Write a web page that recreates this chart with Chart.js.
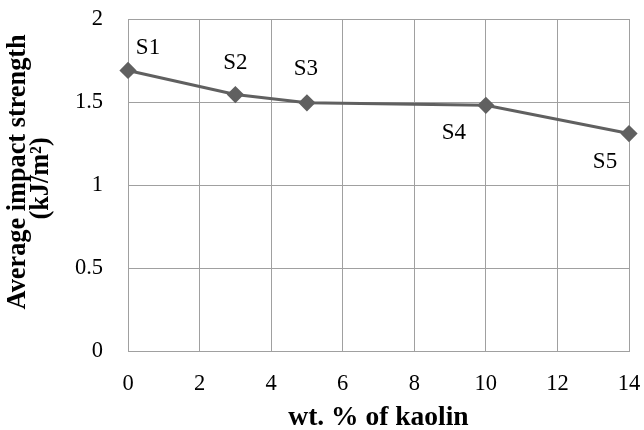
<!DOCTYPE html>
<html>
<head>
<meta charset="utf-8">
<script src="https://cdn.jsdelivr.net/npm/chart.js@4"></script>
<style>html,body{margin:0;padding:0;background:#fff;}canvas{display:block;}</style>
</head>
<body>
<canvas id="c" width="644" height="430"></canvas>
<script>
const kaolinPct = [0, 3, 5, 10, 14];
const impactStrength = [1.69, 1.545, 1.495, 1.48, 1.31];
const sampleLabels = ['S1', 'S2', 'S3', 'S4', 'S5'];
const xTitle = 'wt. % of kaolin';
const yTitle = ['Average impact strength', '(kJ/m²)'];

const labelOffsets = [[20, -23], [0, -32], [-1, -34], [-32, 28], [-24, 28]];
const FONT = '"Liberation Serif", "Times New Roman", serif';

const labelPlugin = {
  id: 'pointLabels',
  afterDatasetsDraw(chart) {
    const ctx = chart.ctx;
    const meta = chart.getDatasetMeta(0);
    ctx.save();
    ctx.font = '23px ' + FONT;
    ctx.fillStyle = '#000';
    ctx.textAlign = 'center';
    ctx.textBaseline = 'middle';
    meta.data.forEach((pt, i) => {
      ctx.fillText(sampleLabels[i], pt.x + labelOffsets[i][0], pt.y + labelOffsets[i][1]);
    });
    ctx.restore();
  }
};

new Chart(document.getElementById('c'), {
  type: 'scatter',
  data: {
    datasets: [{
      data: kaolinPct.map((x, i) => ({ x: x, y: impactStrength[i] })),
      showLine: true,
      borderColor: '#606060',
      backgroundColor: '#606060',
      borderWidth: 3,
      pointStyle: 'rectRot',
      pointRadius: 6.5,
      pointHoverRadius: 6.5,
      clip: false
    }]
  },
  options: {
    responsive: false,
    animation: false,
    layout: { autoPadding: false, padding: { left: 0, right: 15, top: 19, bottom: 0 } },
    plugins: { legend: { display: false }, tooltip: { enabled: false } },
    scales: {
      x: {
        type: 'linear', min: 0, max: 14,
        ticks: { stepSize: 2, color: '#000', font: { family: FONT, size: 22.5 }, padding: 20, maxRotation: 0 },
        grid: { color: '#a0a0a0', lineWidth: 1, drawTicks: false },
        border: { color: '#a0a0a0' },
        title: { display: true, text: xTitle, color: '#000', font: { family: FONT, size: 27.5, weight: 'bold' }, padding: { top: 0, bottom: -4 } },
        afterFit(s) { s.height = 79; s.paddingLeft = 0; s.paddingRight = 0; }
      },
      y: {
        min: 0, max: 2,
        ticks: { stepSize: 0.5, color: '#000', font: { family: FONT, size: 22.5 }, padding: 25,
          callback: v => String(v) },
        grid: { color: '#a0a0a0', lineWidth: 1, drawTicks: false },
        border: { color: '#a0a0a0' },
        title: { display: true, text: ['    ' + yTitle[0], '  ' + yTitle[1]], color: '#000', font: { family: FONT, size: 26.3, weight: 'bold', lineHeight: 0.86 }, padding: { top: 7, bottom: 0 } },
        afterFit(s) { s.width = 128; s.paddingTop = 0; s.paddingBottom = 0; }
      }
    }
  },
  plugins: [labelPlugin]
});
</script>
</body>
</html>
